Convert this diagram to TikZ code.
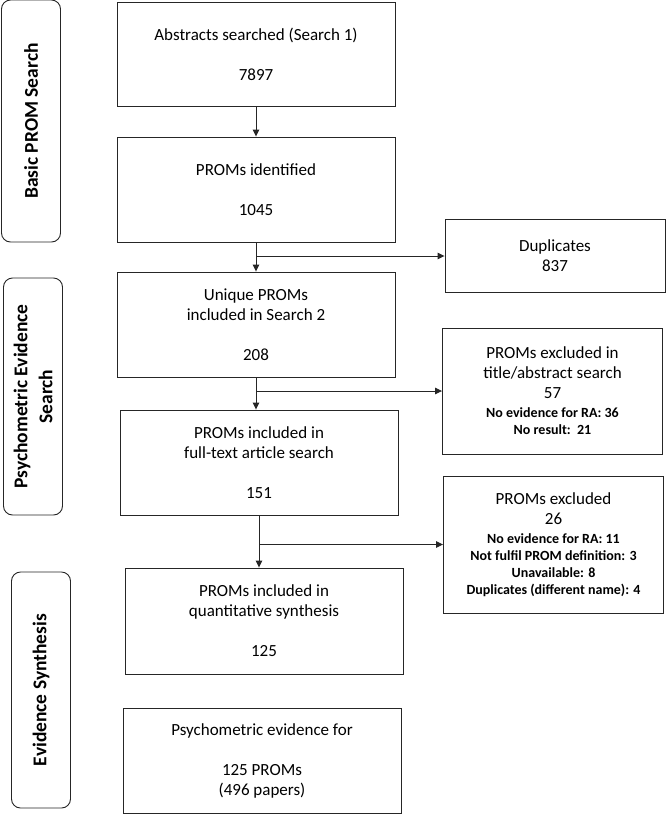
\documentclass[tikz,border=0pt]{standalone}
\usepackage{fontspec}
\setmainfont{Carlito}
\usetikzlibrary{positioning, arrows.meta}
\newcommand{\reasontext}{\fontsize{14}{17}\selectfont\bfseries}

\begin{document}
\begin{tikzpicture}
    [
        x=1pt, y=-1pt, node distance=135pt, on grid, >={Triangle[length=7pt, width=6.5pt]},
        main_box/.style={rectangle, draw=black!85, line width=0.9pt, minimum width=278pt, minimum height=105pt, align=center, font=\fontsize{17}{20}\selectfont},
        excl_box/.style={rectangle, draw=black!85, line width=0.9pt, minimum width=220pt, align=center, font=\fontsize{17}{20}\selectfont},
        stage_box/.style={rectangle, rounded corners=9pt, draw=black!85, line width=0.9pt, minimum height=59pt, rotate=90, align=center, font=\fontsize{19.5}{25}\selectfont\bfseries},
        flow/.style={->, line width=0.9pt, draw=black!85},
    ]
        \useasboundingbox (0,0) rectangle (669,815);
        % stages
        \node[stage_box, minimum width=242pt] (basic) at (31,121) {Basic PROM Search};
        \node[stage_box, minimum width=237pt] (psycho) at (33,396.5) {Psychometric Evidence\\Search};
        \node[stage_box, minimum width=236pt] (synth) at (41,690) {Evidence Synthesis};
        % main column
        \node[main_box, minimum height=104pt] (abstracts) at (256,54) {Abstracts searched (Search 1)\\[20pt]7897};
        \node[main_box] (identified) [below = 135.5pt of abstracts] {PROMs identified\\[20pt]1045};
        \node[main_box] (unique) [below = of identified] {Unique PROMs\\included in Search 2\\[20pt]208};
        \node[main_box] (fulltext) [below = 138pt of unique, xshift=3pt] {PROMs included in\\full-text article search\\[20pt]151};
        \node[main_box, minimum height=106pt] (quant) [below = 158.5pt of fulltext, xshift=5pt] {PROMs included in\\quantitative synthesis\\[20pt]125};
        \node[main_box] (evidence) [below = 139.5pt of quant, xshift=-2pt] {Psychometric evidence for\\[20pt]125 PROMs\\(496 papers)};
        % exclusions
        \node[excl_box, minimum height=73pt] (duplicates) at (555,256) {Duplicates\\837};
        \node[excl_box, minimum height=126pt] (excl_title) at (552.5,391) {PROMs excluded in\\title/abstract search\\57\\[-1pt]{\reasontext No evidence for RA: 36}\\[-3pt]{\reasontext No result:\ \ 21}};
        \node[excl_box, minimum height=137pt] (excl_full) at (553.5,544.5) {PROMs excluded\\26\\[-1pt]{\reasontext No evidence for RA: 11}\\[-3pt]{\reasontext Not fulfil PROM definition: 3}\\[-3pt]{\reasontext Unavailable: 8}\\[-3pt]{\reasontext Duplicates (different name): 4}};
        \draw[flow] (abstracts) -- (identified);
        \draw[flow] (identified) -- (unique);
        \draw[flow] (identified.south |- duplicates) -- (duplicates);
        \draw[flow] (unique.south) -- (unique.south |- fulltext.north);
        \draw[flow] (unique.south |- excl_title) -- (excl_title);
        \draw[flow] (fulltext.south) -- (fulltext.south |- quant.north);
        \draw[flow] (fulltext.south |- excl_full) -- (excl_full);
\end{tikzpicture}
\end{document}
